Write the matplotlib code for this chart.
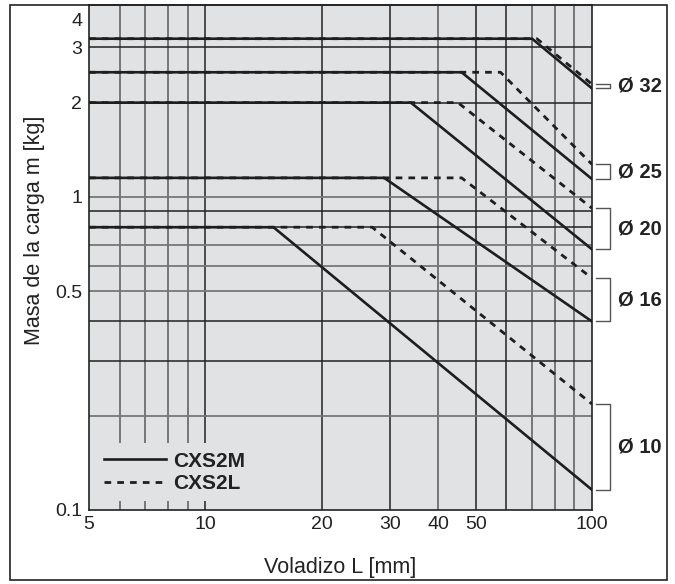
import matplotlib.pyplot as plt
from matplotlib.transforms import blended_transform_factory, ScaledTranslation

plt.rcParams['font.family'] = ['Liberation Sans', 'DejaVu Sans']

# overhang L [mm] vs load mass m [kg], corner points of each curve
bores = ['Ø 32', 'Ø 25', 'Ø 20', 'Ø 16', 'Ø 10']
L_m = [[5, 70, 100], [5, 46, 100], [5, 34, 100], [5, 29, 100], [5, 15, 100]]
m_m = [[3.2, 3.2, 2.22], [2.5, 2.5, 1.14], [2.0, 2.0, 0.68], [1.15, 1.15, 0.40], [0.8, 0.8, 0.116]]
L_l = [[5, 72, 100], [5, 58, 100], [5, 45, 100], [5, 46, 100], [5, 27, 100]]
m_l = [[3.2, 3.2, 2.29], [2.5, 2.5, 1.27], [2.0, 2.0, 0.92], [1.15, 1.15, 0.55], [0.8, 0.8, 0.218]]

xticks = [5, 10, 20, 30, 40, 50, 100]
yticks = [0.1, 0.5, 1, 2, 3, 4]
ytick_labels = ['0.1', '0.5', '1', '2', '3', '4']
xgrid_dark = [10, 20, 30, 50, 60]
xgrid_light = [6, 7, 8, 9, 40, 70, 80, 90]
ygrid_dark = [0.3, 0.4, 0.8, 0.9, 2, 3]
ygrid_light = [0.2, 0.5, 0.6, 0.7, 1]

bg = '#e1e2e4'
ink = '#1e1e1e'
fig = plt.figure(figsize=(6.75, 5.84), dpi=100)
ax = fig.add_axes([89 / 675, 1 - 510 / 584, 503 / 675, 505 / 584])
ax.set_facecolor(bg)
ax.set_xscale('log')
ax.set_yscale('log')
ax.set_xlim(5, 100)
ax.set_ylim(0.1, 4.1)

for x in xgrid_dark:
    ax.axvline(x, color='#222222', lw=1.1, zorder=1)
for x in xgrid_light:
    ax.axvline(x, color='#6e6e6e', lw=1.3, zorder=1)
for y in ygrid_dark:
    ax.axhline(y, color='#222222', lw=1.1, zorder=1)
for y in ygrid_light:
    ax.axhline(y, color='#777777', lw=1.3, zorder=1)

for i in range(len(bores)):
    ax.plot(L_l[i], m_l[i], color=ink, lw=2.0, ls=(0, (2.4, 2.2)), zorder=3,
            label='CXS2L' if i == 0 else None)
    ax.plot(L_m[i], m_m[i], color=ink, lw=1.9, zorder=4,
            label='CXS2M' if i == 0 else None)

ax.set_xticks(xticks)
ax.set_xticklabels([str(v) for v in xticks])
ax.set_yticks(yticks)
ax.set_yticklabels(ytick_labels)
ax.minorticks_off()
ax.tick_params(length=0, labelsize=14, colors='#222222')
ax.tick_params(axis='x', pad=4)
ax.tick_params(axis='y', pad=5)
# the top label sits a little below the frame edge in the original
top_lab = ax.get_yticklabels()[-1]
top_lab.set_transform(top_lab.get_transform() + ScaledTranslation(0, -0.11, fig.dpi_scale_trans))
for s in ax.spines.values():
    s.set_color('#222222')
    s.set_linewidth(1.2)

ax.set_xlabel('Voladizo L [mm]', fontsize=15.5, color='#222222')
ax.set_ylabel('Masa de la carga m [kg]', fontsize=15.5, color='#222222')
ax.xaxis.set_label_coords(0.5, -0.093)
ax.yaxis.set_label_coords(-0.088, 0.554)

handles, labels = ax.get_legend_handles_labels()
leg = ax.legend(handles[::-1], labels[::-1], loc='lower left', bbox_to_anchor=(0.0, 0.005),
                frameon=True, facecolor=bg, edgecolor='none', framealpha=1,
                prop={'size': 15, 'weight': 'bold'}, handlelength=3.0, handletextpad=0.35,
                borderpad=0.4, labelspacing=0.15, borderaxespad=0.3)
for t in leg.get_texts():
    t.set_color('#222222')
leg.set_zorder(5)

# brackets at the right edge grouping both variants of each bore
tr = blended_transform_factory(ax.transAxes, ax.transData)
for i, name in enumerate(bores):
    lo = min(m_m[i][-1], m_l[i][-1])
    hi = max(m_m[i][-1], m_l[i][-1])
    ax.plot([1.007, 1.036, 1.036, 1.007], [hi, hi, lo, lo], color='#555555', lw=1.0,
            transform=tr, clip_on=False)
    mid = (lo * hi) ** 0.5
    ax.text(1.052, mid, name, transform=tr, fontsize=14.5, fontweight='bold',
            color='#222222', va='center', ha='left')

# outer frame
fig.add_artist(plt.Rectangle((10 / 675, 4 / 584), 657 / 675, 575 / 584, transform=fig.transFigure,
                             fill=False, edgecolor='#222222', lw=1.2))

fig.savefig('out.png', dpi=100)
